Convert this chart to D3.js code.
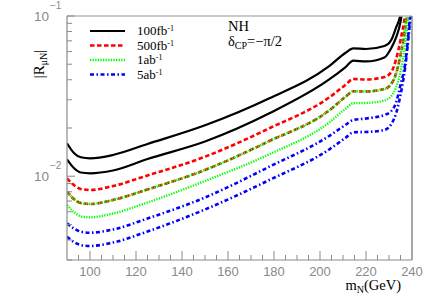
<!DOCTYPE html>
<meta charset="utf-8">
<html>

<head>
  <title>|R_muN| vs m_N</title>
  <script src="https://d3js.org/d3.v7.min.js"></script>
  <style>
    body { margin: 0; background: #fff; }
  </style>
</head>

<body>
  <div id="my_dataviz"></div>
</body>
<script type="text/javascript">

  // heavy neutrino mass (GeV)
  var massN = [90, 93, 96, 100, 110, 125, 150, 178, 204, 211, 214.5, 220, 228, 231, 233, 235, 237, 240];

  // |R_muN| sensitivity, two curves per luminosity
  var lum100fbA = [0.01605, 0.01396, 0.01313, 0.01294, 0.01357, 0.01589, 0.02079, 0.03066, 0.04862, 0.05876, 0.06287, 0.06224, 0.06498, 0.07085, 0.08419, 0.1030, 0.2, 0.5];
  var lum100fbB = [0.01276, 0.01126, 0.01055, 0.01043, 0.01086, 0.01281, 0.01647, 0.02471, 0.04016, 0.04786, 0.05264, 0.05203, 0.05509, 0.06315, 0.07292, 0.09178, 0.15, 0.4];
  var lum500fbA = [0.009707, 0.008815, 0.008325, 0.008207, 0.00869, 0.01011, 0.01324, 0.01992, 0.03101, 0.03711, 0.04045, 0.04016, 0.04163, 0.04472, 0.05316, 0.07085, 0.1015, 0.3];
  var lum500fbB = [0.008006, 0.007211, 0.006808, 0.006711, 0.007107, 0.008265, 0.01094, 0.01659, 0.02572, 0.03123, 0.0339, 0.0338, 0.03503, 0.03765, 0.04346, 0.05711, 0.08419, 0.25];
  var lum1abA = [0.008006, 0.007211, 0.006808, 0.006711, 0.007107, 0.008265, 0.01094, 0.01659, 0.02572, 0.03123, 0.0339, 0.0338, 0.03503, 0.03765, 0.04346, 0.05711, 0.08419, 0.25];
  var lum1abB = [0.006614, 0.005979, 0.005622, 0.005541, 0.005852, 0.006855, 0.009337, 0.01371, 0.02165, 0.02628, 0.02853, 0.02865, 0.0297, 0.03168, 0.03554, 0.04472, 0.06595, 0.2];
  var lum5abA = [0.005084, 0.004718, 0.004506, 0.004441, 0.004651, 0.005447, 0.007367, 0.01147, 0.01783, 0.02088, 0.02244, 0.02293, 0.02411, 0.02554, 0.02865, 0.03711, 0.05018, 0.142];
  var lum5abB = [0.004194, 0.003886, 0.003721, 0.003669, 0.003857, 0.004519, 0.006198, 0.009473, 0.01469, 0.01732, 0.0188, 0.01888, 0.01943, 0.02118, 0.02446, 0.03214, 0.04738, 0.1259];

  var legendNames = ["100fb", "500fb", "1ab", "5ab"];
  var xMajorTicks = [100, 120, 140, 160, 180, 200, 220, 240];
  var yLabelTicks = [0.01, 0.1];

  var margin = { top: 16, right: 24, bottom: 41, left: 67 },
    width = 436 - margin.left - margin.right,
    height = 301 - margin.top - margin.bottom;

  var svg = d3.select("#my_dataviz")
    .append("svg")
    .attr("width", 436)
    .attr("height", 301)
    .style("font-family", "'Liberation Sans', Arial, sans-serif");

  var g = svg.append("g")
    .attr("transform", "translate(" + margin.left + "," + margin.top + ")");

  var x = d3.scaleLinear().domain([90, 240]).range([0, width]);
  var y = d3.scaleLog().domain([0.003, 0.1]).range([height, 0]);

  // styles for each luminosity
  var styles = [
    { color: "#000000", dash: null, w: 2.2 },
    { color: "#ff0000", dash: "4.5,2.5", w: 2.6 },
    { color: "#00ff00", dash: "1.3,1.3", w: 2.3 },
    { color: "#0000ff", dash: "4,2.5,1.5,2.5", w: 2.6 }
  ];
  var curves = [
    { v: lum100fbA, s: 0 }, { v: lum100fbB, s: 0 },
    { v: lum500fbA, s: 1 }, { v: lum500fbB, s: 1 },
    { v: lum1abA, s: 2 }, { v: lum1abB, s: 2 },
    { v: lum5abA, s: 3 }, { v: lum5abB, s: 3 }
  ];

  g.append("clipPath").attr("id", "plotclip")
    .append("rect").attr("width", width).attr("height", height);

  var line = d3.line()
    .x(function (d) { return x(d[0]); })
    .y(function (d) { return y(d[1]); })
    .curve(d3.curveMonotoneX);

  var plot = g.append("g").attr("clip-path", "url(#plotclip)");
  curves.forEach(function (c) {
    var st = styles[c.s];
    plot.append("path")
      .datum(massN.map(function (m, i) { return [m, c.v[i]]; }))
      .attr("fill", "none")
      .attr("stroke", st.color)
      .attr("stroke-width", st.w)
      .attr("stroke-dasharray", st.dash)
      .attr("d", line);
  });

  // frame
  var axisColor = "#8a8a8a";
  g.append("line").attr("x1", 0).attr("x2", width).attr("y1", 0).attr("y2", 0)
    .attr("stroke", "#b8b8b8").attr("stroke-width", 1.5);
  g.append("line").attr("x1", width).attr("x2", width).attr("y1", 0).attr("y2", height)
    .attr("stroke", "#777").attr("stroke-width", 1.3);
  g.append("line").attr("x1", 0).attr("x2", width).attr("y1", height).attr("y2", height)
    .attr("stroke", axisColor).attr("stroke-width", 1.2);
  g.append("line").attr("x1", 0).attr("x2", 0).attr("y1", 0).attr("y2", height)
    .attr("stroke", axisColor).attr("stroke-width", 1.2);

  // x ticks
  var xMinor = d3.range(95, 240, 5);
  g.selectAll(".xminor").data(xMinor).enter().append("line")
    .attr("x1", function (d) { return x(d); }).attr("x2", function (d) { return x(d); })
    .attr("y1", height).attr("y2", function (d) { return xMajorTicks.indexOf(d) >= 0 ? height - 9 : height - 5; })
    .attr("stroke", axisColor).attr("stroke-width", 1);
  g.selectAll(".xlab").data(xMajorTicks).enter().append("text")
    .attr("x", function (d) { return x(d); })
    .attr("y", height + 16)
    .attr("text-anchor", "middle")
    .attr("fill", "#8a8a8a")
    .style("font-size", "13px")
    .text(function (d) { return d; });

  // y ticks
  var yMinor = [];
  [0.001, 0.01].forEach(function (dec) {
    d3.range(2, 10).forEach(function (k) {
      var v = dec * k;
      if (v >= 0.003 && v < 0.1) yMinor.push(v);
    });
  });
  g.selectAll(".yminor").data(yMinor).enter().append("line")
    .attr("x1", 0).attr("x2", 5)
    .attr("y1", function (d) { return y(d); }).attr("y2", function (d) { return y(d); })
    .attr("stroke", axisColor).attr("stroke-width", 1);
  g.selectAll(".ymajor").data(yLabelTicks).enter().append("line")
    .attr("x1", 0).attr("x2", 8)
    .attr("y1", function (d) { return y(d); }).attr("y2", function (d) { return y(d); })
    .attr("stroke", axisColor).attr("stroke-width", 1);
  yLabelTicks.forEach(function (d) {
    var ty = y(d);
    g.append("text").attr("x", -18).attr("y", ty + 5).attr("text-anchor", "end")
      .attr("fill", "#8a8a8a").style("font-size", "13.5px").text("10");
    g.append("text").attr("x", -17).attr("y", ty - 7).attr("text-anchor", "start")
      .attr("fill", "#8a8a8a").style("font-size", "10px")
      .text("\u2212" + Math.round(-Math.log10(d)));
  });

  // axis titles
  var serif = "'Liberation Serif', 'Times New Roman', serif";
  var xt = svg.append("text")
    .attr("x", 401).attr("y", 290)
    .attr("text-anchor", "end")
    .style("font-family", serif).style("font-size", "14.5px");
  xt.append("tspan").text("m");
  xt.append("tspan").attr("dy", 3).style("font-size", "10px").text("N");
  xt.append("tspan").attr("dy", -3).text("(GeV)");

  var yt = svg.append("text")
    .attr("transform", "translate(44,64) rotate(-90)")
    .attr("text-anchor", "middle")
    .style("font-family", serif).style("font-size", "15px");
  yt.append("tspan").text("|R");
  yt.append("tspan").attr("dy", 3).style("font-size", "10px").text("\u03bcN");
  yt.append("tspan").attr("dy", -3).text("|");

  // legend
  var legendY = [31, 45.5, 60, 74.5];
  legendNames.forEach(function (name, i) {
    var st = styles[i];
    svg.append("line")
      .attr("x1", 90).attr("x2", 125)
      .attr("y1", legendY[i]).attr("y2", legendY[i])
      .attr("stroke", st.color).attr("stroke-width", st.w)
      .attr("stroke-dasharray", st.dash);
    var t = svg.append("text")
      .attr("x", 137).attr("y", legendY[i] + 4)
      .style("font-family", serif).style("font-size", "13px");
    t.append("tspan").text(name);
    t.append("tspan").attr("dy", -4).style("font-size", "8px").text("-1");
  });

  // annotation
  svg.append("text").attr("x", 228).attr("y", 31)
    .style("font-family", serif).style("font-size", "14.5px").text("NH");
  var ann = svg.append("text").attr("x", 228).attr("y", 46)
    .style("font-family", serif).style("font-size", "14.5px");
  ann.append("tspan").text("\u03b4");
  ann.append("tspan").attr("dy", 3).style("font-size", "10px").text("CP");
  ann.append("tspan").attr("dy", -3).text("=\u2212\u03c0/2");

</script>

</html>
